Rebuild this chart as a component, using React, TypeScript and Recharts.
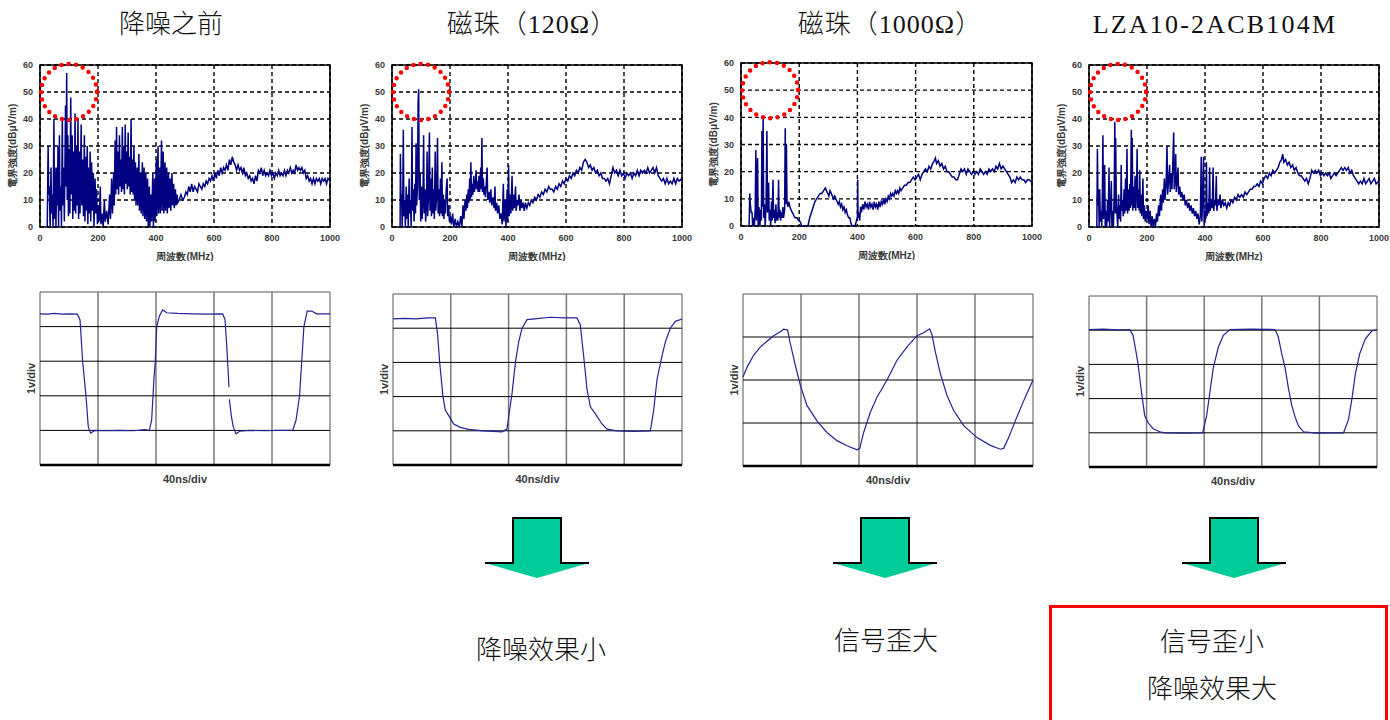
import React from 'react';
import { LineChart, Line, XAxis, YAxis, CartesianGrid, ReferenceArea, ReferenceDot, ReferenceLine } from 'recharts';

const titles = ['降噪之前', '磁珠（120Ω）', '磁珠（1000Ω）', 'LZA10-2ACB104M'];
const captions: string[][] = [[], ['降噪效果小'], ['信号歪大'], ['信号歪小', '降噪效果大']];
const specXLabel = '周波数(MHz)';
const specYLabel = '電界強度(dBμV/m)';
const waveXLabel = '40ns/div';
const waveYLabel = '1v/div';
const specXTicks = [0, 200, 400, 600, 800, 1000];
const specYTicks = [0, 10, 20, 30, 40, 50, 60];
const waveXGrid = [40, 80, 120, 160];
const circleCenter = [100, 50];

const spec1: number[][] = [
  [25,0],[28,30],[30,12],[32,15],[35,0],[38,22],[40,5],[42,12],[45,0],[48,40],[50,3],[52,22],[55,0],[58,22],[60,8],[62,30],[64,0],[67,34],[69,6],[72,15],[74,0],[77,40],[79,8],[82,22],[84,2],[88,45],[90,15],[92,57],[94,10],[96,34],[98,4],[101,29],[103,5],[106,48],[108,12],[111,34],[113,3],[116,28],[118,6],[121,42],[123,5],[126,30],[128,8],[131,40],[133,3],[136,28],[138,5],[142,38],[144,8],[147,25],[150,4],[153,34],[155,2],[158,26],[160,6],[163,30],[165,1],[168,22],[170,5],[173,28],[175,2],[178,24],[180,6],[184,20],[186,0],[190,18],[192,5],[195,14],[198,1],[200,8],
  [204,2],[208,15],[210,1],[214,5],[218,0],[222,10],[225,2],[230,6],[235,1],[240,12],[243,3],[247,18],[250,5],
  [254,20],[256,8],[259,32],[261,12],[264,37],[266,14],[269,28],[271,12],[274,34],[276,15],[279,25],[281,13],[284,37],[286,14],[289,30],[291,12],[294,38],[296,16],[299,28],[301,14],[304,35],[306,15],[309,26],[311,12],[314,40],[316,13],[319,25],[321,12],[324,30],[326,10],
  [329,24],[331,8],[335,22],[337,8],[341,27],[343,6],[347,20],[349,5],[353,24],[355,4],[359,22],[361,3],[365,20],[367,2],[371,18],[373,0],[377,15],[379,0],[383,12],[385,2],[389,20],[391,0],[395,18],[397,2],[401,25],[403,4],[407,30],[409,5],[413,22],[415,5],[419,32],[421,6],[425,28],[427,5],[431,24],[433,6],[437,22],[439,5],[443,20],[445,7],[449,18],[451,6],[455,20],[457,8],[461,16],[463,7],[467,14],[469,8],[473,12],[475,9],[480,10],[486,12],[492,10],[498,11],
  [503,13],[508,12],[513,15],[518,13],[523,16],[528,13],[533,15],[538,14],[543,13],[548,16],[553,15],[558,14],[563,16],[568,15],[573,17],[578,16],[583,18],[588,17],[593,19],[598,17],[603,20],[608,18],[613,21],[618,19],[623,22],[628,20],[633,22],[638,21],[643,23],[648,21],[653,25],[658,23],[663,26],[668,24],[673,23],[678,21],[683,23],[688,21],[693,22],[698,20],[703,22],[708,19],[713,20],[718,18],[723,19],[728,17],[733,18],[738,16],[743,19],[748,17],[753,21],[758,20],[763,22],[768,19],[773,21],[778,19],[783,20],[788,19],[793,21],[798,19],[803,20],[808,18],[813,20],[818,19],[823,21],[828,19],[833,20],[838,19],[843,21],[848,19],[853,21],[858,20],[863,22],[868,20],[873,21],[878,20],[883,23],[888,21],[893,22],[898,21],[903,22],[908,20],[913,21],[918,18],[923,19],[928,17],[933,18],[938,16],[943,18],[948,16],[953,18],[958,17],[963,18],[968,16],[973,18],[978,17],[983,18],[988,16],[993,18],[1000,17],
];

const spec2: number[][] = [
  [28,0],[29,27],[31,10],[33,12],[35,0],[37,8],[39,36],[41,4],[44,10],[46,0],[49,15],[51,3],[54,12],[56,0],[59,18],[61,5],[64,10],[66,0],[69,37],[71,6],[74,14],[76,2],[79,16],[81,5],[83,31],[85,8],[88,15],[90,46],[92,51],[94,10],[97,20],[99,2],[102,15],[104,3],[107,12],[109,34],[111,5],[114,14],[116,2],[119,10],[121,28],[123,4],[126,12],[129,35],[131,6],[134,18],[136,4],[139,22],[141,5],[144,14],[146,3],[149,28],[151,6],[154,12],[157,33],[159,5],[162,14],[164,4],[167,18],[169,5],[172,24],[174,4],[177,12],[179,3],[182,10],[184,5],[187,14],[190,18],[192,4],[195,8],[198,2],
  [201,4],[205,1],[209,5],[213,0],[218,3],[222,0],[227,2],[232,0],[237,4],[241,0],[245,8],[248,3],[252,10],[255,6],[258,12],[260,7],[263,14],[265,9],[268,18],[270,10],[272,24],[274,11],[277,16],[279,12],[282,19],[284,13],[287,15],[290,21],[292,14],[295,17],[297,13],[300,19],[302,13],[306,22],[308,14],[310,33],[312,13],[315,18],[317,12],[320,15],[322,11],[325,16],[328,22],[330,10],
  [334,13],[337,9],[341,14],[344,8],[348,11],[352,7],[355,15],[357,6],[361,9],[364,5],[368,8],[372,3],[376,5],[380,1],[384,16],[386,2],[390,10],[393,0],[397,14],[399,2],[402,23],[404,4],[408,12],[410,5],[414,19],[416,6],[420,12],[422,7],[426,15],[428,6],[432,10],[434,8],[438,12],[441,6],[445,10],[448,7],[452,9],[456,6],[460,9],[465,7],[470,9],[475,8],[480,10],[486,9],[492,11],[498,10],
  [504,12],[510,11],[516,13],[522,12],[528,14],[534,13],[540,15],[546,14],[552,14],[558,13],[564,15],[570,14],[576,16],[582,15],[588,17],[594,16],[600,18],[606,17],[612,19],[618,18],[624,20],[630,19],[636,21],[642,20],[648,22],[654,21],[660,24],[666,25],[672,24],[678,22],[684,23],[690,21],[696,22],[702,20],[708,21],[714,19],[720,20],[726,18],[732,18],[738,17],[744,18],[750,16],[756,19],[762,22],[768,20],[774,21],[780,19],[786,21],[792,19],[798,20],[804,18],[810,20],[816,19],[822,20],[828,18],[834,20],[840,19],[846,21],[852,19],[858,21],[864,20],[870,21],[876,20],[882,22],[888,20],[894,21],[900,22],[906,20],[912,22],[918,19],[924,18],[930,17],[936,18],[942,16],[948,18],[954,16],[960,17],[966,16],[972,18],[978,16],[984,18],[990,17],[1000,18],
];

const spec3: number[][] = [
  [28,0],[30,12],[32,8],[35,5],[38,5],[40,0],[43,3],[46,0],[49,7],[51,28],[53,2],[55,7],[57,25],[59,0],[62,7],[65,0],[68,6],[70,2],[72,35],[74,7],[76,40],[78,3],[81,8],[83,0],[86,7],[89,35],[91,5],[93,10],[95,16],[97,2],[100,6],[102,0],[105,9],[107,2],[110,17],[112,3],[115,6],[117,1],[120,8],[122,2],[125,5],[127,2],[129,17],[131,3],[134,6],[136,2],[139,5],[141,3],[144,7],[146,3],[150,6],[152,36],[154,8],[156,30],[158,9],[161,7],[164,9],[168,7],[172,6],[176,5],[181,4],[186,3],[192,3],[198,2],
  [204,1.5],[208,0],[215,0],[222,0],[230,0],[236,3],[242,5],[248,7],[254,9],[260,10],[266,11],[272,12],[278,12],[284,13],[290,14],[294,13],[298,12],[302,11],[306,13],[310,12],[314,11],[318,10],[322,11],[326,10],[330,9],[334,8],[338,9],[342,7],[346,8],[350,6],[354,7],[358,5],[362,6],[366,4],[370,3],[374,3],[378,1],[382,0],[386,0],[392,0],[397,2],[400,3],[401,17],[402,3],[405,5],[408,2],[411,7],[414,5],[418,8],[422,6],[426,9],[430,7],[434,8],[438,6],[442,9],[446,7],[450,8],[454,6],[458,9],[462,7],[466,8],[470,6],[474,9],[478,7],[482,9],[486,8],[490,10],[494,8],[498,10],
  [502,9],[506,11],[510,10],[514,12],[518,11],[522,12],[526,11],[530,13],[534,12],[538,13],[542,12],[546,14],[550,13],[556,14],[562,15],[568,15],[574,16],[580,16],[586,17],[592,18],[598,17],[604,18],[610,19],[616,17],[622,19],[628,20],[634,21],[640,20],[646,22],[652,21],[658,23],[664,24],[668,25],[672,23],[678,24],[684,22],[690,23],[696,21],[702,22],[708,20],[714,20],[720,19],[726,18],[732,18],[738,17],[744,17],[750,19],[756,21],[762,20],[768,21],[774,19],[780,21],[786,20],[792,19],[798,20],[804,19],[810,20],[816,19],[822,21],[828,20],[834,19],[840,20],[846,19],[852,21],[858,20],[864,21],[870,20],[876,22],[882,21],[888,23],[894,21],[900,22],[906,21],[912,20],[918,19],[924,18],[930,16],[936,17],[942,16],[948,18],[954,17],[960,18],[966,17],[972,17],[978,16],[984,17],[990,17],[1000,16],
];

const spec4: number[][] = [
  [27,0],[29,29],[31,8],[33,14],[35,0],[37,14],[39,2],[42,6],[44,0],[46,12],[48,34],[50,3],[52,8],[54,23],[56,0],[59,6],[61,0],[64,10],[66,2],[69,22],[71,0],[74,8],[77,17],[79,0],[82,6],[84,0],[87,12],[89,39],[91,5],[92,33],[94,10],[97,4],[99,0],[102,12],[104,3],[107,8],[109,2],[111,23],[113,6],[116,10],[118,4],[121,14],[123,5],[126,18],[128,6],[131,29],[133,5],[136,14],[138,6],[141,16],[143,7],[146,36],[148,8],[149,33],[151,6],[154,15],[156,7],[159,19],[161,6],[164,14],[166,29],[168,7],[171,14],[173,6],[175,21],[177,5],[180,12],[182,4],[186,18],[188,3],[191,8],[194,2],[197,6],[200,3],
  [204,8],[207,1],[211,6],[214,0],[218,4],[221,0],[225,3],[229,0],[233,5],[236,2],[240,8],[243,4],[247,12],[250,6],[254,14],[256,9],[260,18],[262,10],[266,16],[269,30],[271,12],[275,18],[278,23],[280,13],[284,20],[286,14],[289,24],[292,35],[294,14],[297,20],[299,27],[301,13],[304,17],[307,22],[309,12],[313,15],[316,11],[320,13],[324,10],[328,12],
  [332,8],[336,10],[340,7],[344,9],[348,6],[352,8],[356,5],[360,7],[364,4],[368,6],[372,3],[376,5],[380,1],[384,4],[387,26],[389,2],[392,10],[395,26],[397,0],[400,6],[403,3],[405,24],[407,4],[410,9],[413,5],[416,22],[418,6],[422,10],[425,7],[428,22],[430,6],[434,10],[436,8],[439,19],[441,6],[445,10],[448,8],[452,12],[455,7],[460,10],[465,8],[470,9],[475,7],[480,9],[485,8],[490,10],[496,9],
  [502,11],[508,10],[514,12],[520,11],[526,12],[532,11],[538,13],[544,12],[550,13],[556,14],[562,14],[568,15],[574,15],[580,16],[586,15],[592,17],[598,16],[604,18],[610,19],[616,18],[622,20],[628,19],[634,21],[640,20],[646,21],[652,22],[658,24],[664,25],[668,27],[672,24],[678,25],[684,23],[690,24],[696,22],[702,23],[708,21],[714,22],[720,20],[726,19],[732,19],[738,18],[744,17],[750,18],[756,16],[762,18],[768,21],[774,20],[780,21],[786,20],[792,21],[798,19],[804,20],[810,19],[816,20],[822,19],[828,20],[834,18],[840,19],[846,20],[852,19],[858,20],[864,21],[870,22],[876,21],[882,22],[888,21],[894,22],[900,20],[906,21],[912,19],[918,18],[924,17],[930,16],[936,17],[942,16],[948,18],[954,16],[960,17],[966,18],[972,16],[978,17],[984,18],[990,16],[1000,17],
];

const wave1: (number | null)[][] = [
  [0,4.37],[5,4.36],[10,4.38],[15,4.36],[20,4.37],[25.7,4.36],[27.6,4.2],[29.4,3.0],[31.7,2.0],[33.3,1.1],[34.9,0.92],[37.9,1.0],[45,0.99],[55,1.0],[65,0.99],[72,1.02],[75.4,1.0],[77,1.3],[78.6,2.5],[79.5,3.0],[80.5,4.0],[82.3,4.3],[84.6,4.48],[87.4,4.4],[95,4.38],[105,4.37],[115,4.36],[126,4.37],[127.6,4.2],[128.7,3.5],[129.9,2.6],[130.3,2.25],[130.4,null],[130.6,1.9],[132,1.4],[133.3,1.1],[135.2,0.9],[137.9,0.98],[145,1.0],[155,0.99],[165,1.0],[174.3,1.0],[176.6,1.3],[179,2.0],[180.5,3.0],[182,4.0],[184.3,4.45],[187.4,4.45],[190.8,4.37],[195,4.37],[200,4.37],
];
const wave2: number[][] = [
  [0,4.27],[8,4.29],[16,4.27],[24,4.3],[29.3,4.3],[30.9,3.8],[32.3,3.0],[34.6,2.0],[36.2,1.6],[38.5,1.45],[42,1.2],[46.6,1.1],[52.4,1.04],[62.7,1.0],[75.4,0.97],[78.9,1.05],[80.7,1.6],[82.4,2.1],[84.7,3.0],[87,3.6],[89.3,4.0],[92.7,4.25],[99.7,4.28],[108.9,4.32],[118.1,4.3],[127.3,4.3],[129.6,4.1],[131.9,3.2],[134.3,2.2],[136.6,1.7],[140,1.5],[144.6,1.2],[148.1,1.05],[155,1.0],[166.6,0.98],[178.1,1.0],[180.4,1.6],[182.7,2.5],[186.2,3.2],[188.5,3.6],[191.9,4.0],[195.4,4.2],[200,4.27],
];
const wave3: number[][] = [
  [0,2.07],[2.8,2.3],[7.4,2.58],[12,2.77],[16.6,2.9],[21.1,3.03],[25.7,3.12],[28,3.18],[30.8,3.16],[32.6,2.85],[36.1,2.34],[39.5,1.88],[44.1,1.41],[51,1.05],[57.9,0.78],[64.8,0.59],[71.7,0.47],[78.6,0.375],[80.5,0.41],[83.2,0.78],[87.8,1.25],[92.4,1.6],[99.3,2.0],[106.2,2.46],[113.1,2.77],[120,3.03],[124.6,3.1],[128.7,3.19],[130.3,3.06],[132.6,2.66],[136.1,2.15],[140.7,1.64],[145.3,1.29],[152.2,0.94],[161.4,0.66],[170.6,0.48],[177.5,0.39],[179.8,0.41],[183.2,0.66],[187.8,1.05],[193.6,1.52],[200,2.0],
];
const wave4: number[][] = [
  [0,4.02],[10,4.03],[20,4.01],[28.3,4.02],[30.6,3.85],[32.5,3.4],[34.1,3.0],[36.4,2.2],[38.7,1.5],[41,1.3],[44.5,1.12],[49.2,1.03],[52.7,1.0],[65.4,0.99],[78.9,1.0],[81.7,1.5],[84,2.2],[86.3,2.9],[89.8,3.5],[93.3,3.85],[97.9,4.02],[111.8,4.03],[129.2,4.02],[131.5,3.8],[133.9,3.3],[136.2,2.9],[138.5,2.3],[140.8,1.8],[143.2,1.45],[145.5,1.2],[149,1.03],[158.2,0.99],[176.8,1.0],[180.3,1.4],[182.6,2.0],[184.9,2.7],[187.9,3.3],[191.9,3.75],[196.5,3.98],[200,4.02],
];

const sansBold = { fontFamily: '"Liberation Sans", Arial, sans-serif', fontWeight: 'bold' as const, fill: '#3a3a3a' };

function Spectrum({ data, left, top, w, h }: { data: number[][]; left: number; top: number; w: number; h: number }) {
  const rows = data.map(([f, v]) => ({ f, v }));
  return (
    <div style={{ position: 'absolute', left: left - 40, top: top - 10 }}>
      <LineChart width={w + 55} height={h + 10 + 34} data={rows} margin={{ top: 10, right: 15, left: 0, bottom: 0 }}>
        <CartesianGrid stroke="#000" strokeDasharray="4 3" strokeWidth={1.4} />
        <XAxis type="number" dataKey="f" domain={[0, 1000]} ticks={specXTicks} interval={0} height={34}
          tickLine={false} axisLine={false} tickSize={4} tickMargin={4}
          tick={{ fontSize: 9, ...sansBold }}
          label={{ value: specXLabel, position: 'insideBottom', offset: 1, style: { fontSize: 10, ...sansBold } }} />
        <YAxis type="number" domain={[0, 60]} ticks={specYTicks} interval={0} width={40}
          tickLine={false} axisLine={false} tickSize={4} tickMargin={3}
          tick={{ fontSize: 9, ...sansBold }}
          label={{ value: specYLabel, angle: -90, position: 'insideLeft', offset: 12, style: { fontSize: 10, textAnchor: 'middle', ...sansBold } }} />
        <ReferenceArea x1={0} x2={1000} y1={0} y2={60} fill="none" stroke="#000" strokeWidth={1.6} ifOverflow="visible" />
        <Line dataKey="v" stroke="#000080" strokeWidth={1.5} dot={false} isAnimationActive={false} type="linear" />
        <ReferenceDot x={circleCenter[0]} y={circleCenter[1]} r={28} fill="none" stroke="#ff0000" strokeWidth={4.5}
          strokeDasharray="0 7.3" strokeLinecap="round" ifOverflow="visible" />
      </LineChart>
    </div>
  );
}

function Wave({ data, left, top, w, h, rows }: { data: (number | null)[][]; left: number; top: number; w: number; h: number; rows: number }) {
  const pts = data.map(([t, v]) => ({ t, v }));
  const yGrid = Array.from({ length: rows - 1 }, (_, i) => i + 1);
  return (
    <div style={{ position: 'absolute', left: left - 40, top: top - 10 }}>
      <LineChart width={w + 50} height={h + 10 + 20} data={pts} margin={{ top: 10, right: 10, left: 0, bottom: 0 }}>
        <XAxis type="number" dataKey="t" domain={[0, 200]} height={20} tick={false} tickLine={false}
          axisLine={{ stroke: '#000', strokeWidth: 2.5 }}
          label={{ value: waveXLabel, position: 'insideBottom', offset: 2, style: { fontSize: 11, ...sansBold } }} />
        <YAxis type="number" domain={[0, rows]} width={40} tick={false} tickLine={false} axisLine={false}
          label={{ value: waveYLabel, angle: -90, position: 'insideLeft', offset: 31, style: { fontSize: 11, textAnchor: 'middle', ...sansBold } }} />
        <ReferenceArea x1={0} x2={200} y1={0} y2={rows} fill="none" stroke="#555" strokeWidth={1} ifOverflow="visible" />
        {waveXGrid.map((x) => (
          <ReferenceLine key={'x' + x} x={x} stroke="#7a7a7a" strokeWidth={1.5} />
        ))}
        {yGrid.map((y) => (
          <ReferenceLine key={'y' + y} y={y} stroke="#000" strokeWidth={1} />
        ))}
        <Line dataKey="v" stroke="#23239a" strokeWidth={1.2} dot={false} isAnimationActive={false} type="linear" connectNulls={false} />
      </LineChart>
    </div>
  );
}

const arrowCenters = [537, 885, 1234];

function Arrow({ cx }: { cx: number }) {
  const pts = `${cx - 24},518 ${cx + 24},518 ${cx + 24},563 ${cx + 52},563 ${cx},578 ${cx - 52},563 ${cx - 24},563`;
  const outline = `${cx - 52},563 ${cx - 24},563 ${cx - 24},518 ${cx + 24},518 ${cx + 24},563 ${cx + 52},563`;
  return (
    <g>
      <polygon points={pts} fill="#00CC99" />
      <polyline points={outline} fill="none" stroke="#000" strokeWidth={2} />
    </g>
  );
}

const titleCenters = [171, 532, 890, 1215];
const captionCenters = [0, 541, 886, 1212];

export default function App() {
  const serif = '"Liberation Serif", "Noto Sans CJK SC", serif';
  return (
    <div style={{ position: 'absolute', left: 0, top: 0, width: 1390, height: 720, overflow: 'hidden', background: '#fff' }}>
      {titles.map((t, i) => (
        <div key={t} style={{ position: 'absolute', left: titleCenters[i] - 200, width: 400, top: 8, lineHeight: '34px', textAlign: 'center', fontSize: 26, fontFamily: serif, fontWeight: 300, color: '#111', whiteSpace: 'nowrap', letterSpacing: i === 3 ? '2.2px' : i > 0 ? '1px' : '0px' }}>{t}</div>
      ))}
      <Spectrum data={spec1} left={40} top={65} w={290} h={162} />
      <Spectrum data={spec2} left={392} top={65} w={290} h={162} />
      <Spectrum data={spec3} left={741} top={63} w={291} h={163} />
      <Spectrum data={spec4} left={1089} top={65} w={290} h={162} />
      <Wave data={wave1} left={40} top={292} w={290} h={173} rows={5} />
      <Wave data={wave2} left={393} top={294} w={289} h={171} rows={5} />
      <Wave data={wave3} left={743} top={294} w={290} h={172} rows={4} />
      <Wave data={wave4} left={1089} top={296} w={288} h={171} rows={5} />
      <svg width={1390} height={720} style={{ position: 'absolute', left: 0, top: 0, pointerEvents: 'none' }}>
        {arrowCenters.map((c) => <Arrow key={c} cx={c} />)}
        <rect x={1050.5} y={606.5} width={336} height={130} fill="none" stroke="#ff0000" strokeWidth={3} />
      </svg>
      {captions.map((lines, i) =>
        lines.map((txt, j) => {
          const cy = i === 1 ? 651 : i === 2 ? 642 : j === 0 ? 643 : 690;
          return (
            <div key={txt} style={{ position: 'absolute', left: captionCenters[i] - 150, width: 300, top: cy - 18, lineHeight: '36px', textAlign: 'center', fontSize: 26, fontFamily: serif, fontWeight: 300, color: '#111' }}>{txt}</div>
          );
        })
      )}
    </div>
  );
}
